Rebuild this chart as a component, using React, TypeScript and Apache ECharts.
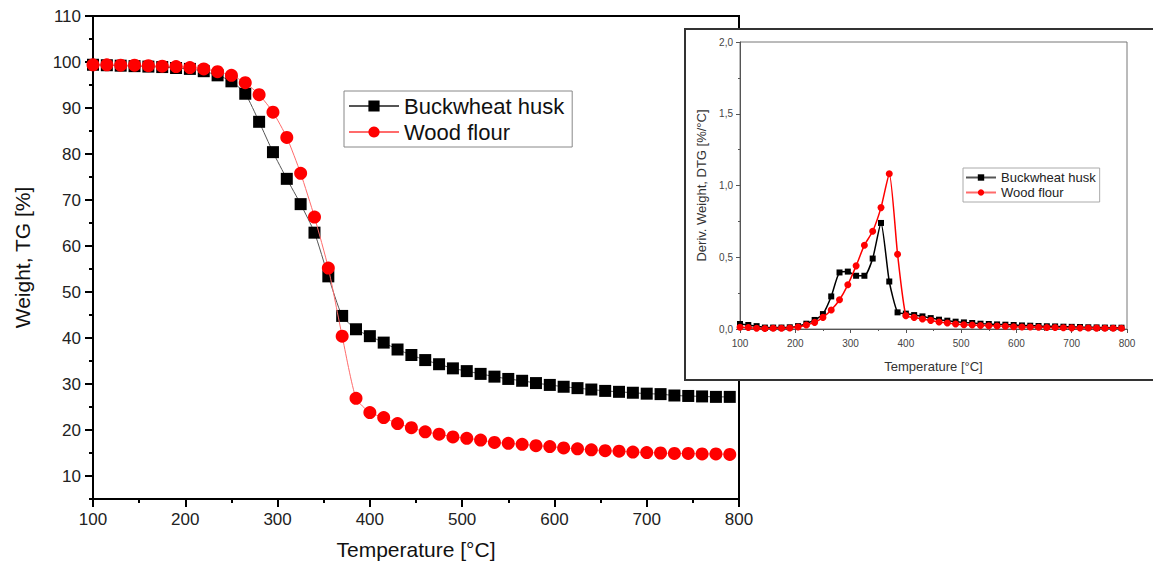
import React, { useEffect, useRef } from "react";
import * as echarts from "echarts";

const temps = [100,115,130,145,160,175,190,205,220,235,250,265,280,295,310,325,340,355,370,385,400,415,430,445,460,475,490,505,520,535,550,565,580,595,610,625,640,655,670,685,700,715,730,745,760,775,790];

const tgBuckwheat = [99.4,99.3,99.2,99.1,99.0,98.9,98.7,98.5,98.0,97.1,95.8,93.1,87.0,80.4,74.6,69.1,62.9,53.4,44.8,41.9,40.4,39.0,37.5,36.3,35.2,34.3,33.4,32.8,32.2,31.6,31.1,30.7,30.2,29.8,29.4,29.1,28.8,28.5,28.3,28.1,27.9,27.8,27.5,27.4,27.3,27.2,27.2];
const tgWood = [99.4,99.4,99.3,99.3,99.2,99.1,99.0,98.8,98.5,97.9,97.1,95.5,92.9,89.1,83.6,75.8,66.3,55.2,40.4,26.9,23.8,22.7,21.4,20.5,19.6,19.1,18.5,18.2,17.8,17.3,17.1,16.9,16.6,16.4,16.1,15.9,15.7,15.5,15.4,15.2,15.1,15.0,14.9,14.9,14.8,14.8,14.7];

const dtgBuckwheat = [0.035,0.028,0.02,0.01,0.01,0.01,0.012,0.02,0.037,0.063,0.104,0.227,0.394,0.40,0.371,0.371,0.491,0.739,0.331,0.116,0.107,0.097,0.088,0.076,0.065,0.058,0.051,0.046,0.042,0.037,0.035,0.032,0.03,0.028,0.025,0.023,0.021,0.019,0.018,0.016,0.015,0.014,0.012,0.011,0.01,0.009,0.009];
const dtgWood = [0.012,0.01,0.005,0.003,0.005,0.005,0.007,0.014,0.028,0.046,0.081,0.132,0.204,0.308,0.44,0.584,0.681,0.846,1.082,0.521,0.093,0.081,0.07,0.06,0.049,0.042,0.035,0.03,0.028,0.025,0.023,0.021,0.019,0.016,0.014,0.014,0.012,0.011,0.01,0.009,0.008,0.007,0.007,0.006,0.005,0.005,0.005];

const seriesNames = ["Buckwheat husk", "Wood flour"];
const mainYLabels = [10,20,30,40,50,60,70,80,90,100,110];
const mainYMinor = [5,15,25,35,45,55,65,75,85,95,105];

const FONT = "Liberation Sans, Arial, sans-serif";

function pairs(xs: number[], ys: number[]) {
  return xs.map((x, i) => [x, ys[i]]);
}

export default function App() {
  const ref = useRef<HTMLDivElement>(null);
  useEffect(() => {
    if (!ref.current) return;
    const chart = echarts.init(ref.current, undefined, { renderer: "svg" });
    const option: any = {
      animation: false,
      backgroundColor: "#fff",
      textStyle: { fontFamily: FONT },
      grid: [
        { left: 93, top: 16, width: 646, height: 483, show: true, borderColor: "#000", borderWidth: 2, z: 0 },
        { left: 740, top: 42, width: 387, height: 287, show: true, borderColor: "#777", borderWidth: 1, backgroundColor: "transparent", z: 20 },
      ],
      graphic: [
        {
          type: "rect",
          z: 10,
          shape: { x: 685, y: 29, width: 480, height: 351 },
          style: { fill: "#fff", stroke: "#333", lineWidth: 2 },
        },
      ],
      legend: [
        {
          data: seriesNames,
          orient: "vertical",
          left: 344,
          top: 91,
          width: 231,
          itemWidth: 50,
          itemHeight: 14,
          itemGap: 4,
          padding: [4, 8, 4, 4],
          borderColor: "#888",
          borderWidth: 1,
          textStyle: { fontSize: 22, color: "#111", fontFamily: FONT },
          z: 5,
        },
        {
          data: seriesNames,
          orient: "vertical",
          left: 963,
          top: 168,
          itemWidth: 30,
          itemHeight: 8,
          itemGap: 2,
          padding: [3, 4, 3, 2],
          borderColor: "#aaa",
          borderWidth: 1,
          backgroundColor: "#fff",
          textStyle: { fontSize: 13, color: "#222", fontFamily: FONT },
          z: 30,
        },
      ],
      xAxis: [
        {
          type: "value",
          gridIndex: 0,
          min: 100,
          max: 800,
          interval: 100,
          name: "Temperature [°C]",
          nameLocation: "middle",
          nameGap: 40,
          nameTextStyle: { fontSize: 21, color: "#111", fontFamily: FONT },
          axisLine: { lineStyle: { color: "#000", width: 2 } },
          axisTick: { show: true, length: 8, lineStyle: { color: "#000", width: 2 } },
          minorTick: { show: true, splitNumber: 2, length: 4, lineStyle: { color: "#000", width: 2 } },
          axisLabel: { fontSize: 17, color: "#222", margin: 12, fontFamily: FONT },
          splitLine: { show: false },
        },
        {
          type: "value",
          gridIndex: 1,
          min: 100,
          max: 800,
          interval: 100,
          z: 20,
          name: "Temperature [°C]",
          nameLocation: "middle",
          nameGap: 31,
          nameTextStyle: { fontSize: 13, color: "#333", fontFamily: FONT },
          axisLine: { lineStyle: { color: "#555", width: 1 } },
          axisTick: { show: true, length: 4, lineStyle: { color: "#555", width: 1 } },
          minorTick: { show: true, splitNumber: 2, length: 2, lineStyle: { color: "#555", width: 1 } },
          axisLabel: { fontSize: 10, color: "#444", margin: 9, fontFamily: FONT },
          splitLine: { show: false },
        },
      ],
      yAxis: [
        {
          type: "value",
          gridIndex: 0,
          position: "left",
          min: 5,
          max: 110,
          interval: 5,
          name: "Weight, TG [%]",
          nameLocation: "middle",
          nameGap: 60,
          nameTextStyle: { fontSize: 21, color: "#111", fontFamily: FONT },
          axisLine: { show: true, lineStyle: { color: "#000", width: 2 } },
          axisTick: { show: true, length: 8, customValues: mainYLabels, lineStyle: { color: "#000", width: 2 } },
          axisLabel: { fontSize: 17, color: "#222", margin: 12, customValues: mainYLabels, fontFamily: FONT },
          splitLine: { show: false },
        },
        {
          type: "value",
          gridIndex: 0,
          position: "left",
          offset: 0,
          min: 5,
          max: 110,
          interval: 5,
          axisLine: { show: false },
          axisTick: { show: true, length: 4, customValues: mainYMinor, lineStyle: { color: "#000", width: 2 } },
          axisLabel: { show: false },
          splitLine: { show: false },
        },
        {
          type: "value",
          gridIndex: 1,
          position: "left",
          min: 0,
          max: 2,
          interval: 0.5,
          z: 20,
          name: "Deriv. Weight, DTG [%/°C]",
          nameLocation: "middle",
          nameGap: 32,
          nameTextStyle: { fontSize: 13, color: "#333", fontFamily: FONT },
          axisLine: { show: true, lineStyle: { color: "#555", width: 1 } },
          axisTick: { show: true, length: 4, lineStyle: { color: "#555", width: 1 } },
          minorTick: { show: true, splitNumber: 2, length: 2, lineStyle: { color: "#555", width: 1 } },
          axisLabel: {
            fontSize: 10,
            color: "#444",
            margin: 7,
            fontFamily: FONT,
            formatter: (v: number) => v.toFixed(1).replace(".", ","),
          },
          splitLine: { show: false },
        },
      ],
      series: [
        {
          name: seriesNames[0],
          type: "line",
          xAxisIndex: 0,
          yAxisIndex: 0,
          data: pairs(temps, tgBuckwheat),
          smooth: 0.2,
          symbol: "rect",
          symbolSize: 12,
          itemStyle: { color: "#000" },
          lineStyle: { color: "#555", width: 1 },
          z: 3,
        },
        {
          name: seriesNames[1],
          type: "line",
          xAxisIndex: 0,
          yAxisIndex: 0,
          data: pairs(temps, tgWood),
          smooth: 0.2,
          symbol: "circle",
          symbolSize: 13,
          itemStyle: { color: "#ff0000" },
          lineStyle: { color: "#ff6b6b", width: 1 },
          z: 4,
        },
        {
          name: seriesNames[0],
          type: "line",
          xAxisIndex: 1,
          yAxisIndex: 2,
          data: pairs(temps, dtgBuckwheat),
          smooth: 0.2,
          symbol: "rect",
          symbolSize: 6,
          itemStyle: { color: "#000" },
          lineStyle: { color: "#000", width: 1.5 },
          z: 25,
        },
        {
          name: seriesNames[1],
          type: "line",
          xAxisIndex: 1,
          yAxisIndex: 2,
          data: pairs(temps, dtgWood),
          smooth: 0.2,
          symbol: "circle",
          symbolSize: 7,
          itemStyle: { color: "#ff0000" },
          lineStyle: { color: "#ff0000", width: 1.5 },
          z: 26,
        },
      ],
    };
    chart.setOption(option);
    return () => chart.dispose();
  }, []);
  return (
    <div
      ref={ref}
      style={{ position: "fixed", left: 0, top: 0, width: 1153, height: 575, background: "#fff" }}
    />
  );
}
